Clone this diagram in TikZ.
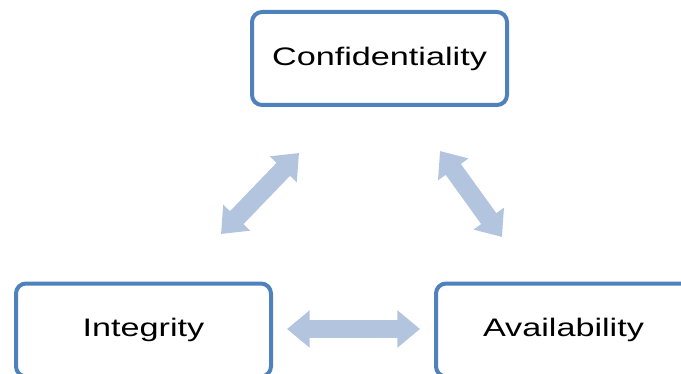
\documentclass[tikz,border=0pt]{standalone}
\usepackage{fontspec}
\setmainfont{Liberation Sans}
\usetikzlibrary{arrows.meta}
\definecolor{boxblue}{HTML}{4F81BD}
\definecolor{arrowblue}{HTML}{B3C4DF}
\tikzset{
  pillarbox/.style={draw=boxblue, line width=3pt, rounded corners=7.5pt, fill=white,
    minimum width=191.25pt, minimum height=69.75pt, inner sep=0pt,
    font=\fontsize{19}{22}\selectfont},
  bigarrow/.style={draw=arrowblue, line width=14pt, line cap=butt,
    {Triangle[width=27pt,length=17pt]}-{Triangle[width=27pt,length=17pt]}}
}
\newcommand{\wide}[1]{\scalebox{1.35}[1]{#1}}
\begin{document}
\begin{tikzpicture}[x=0.75pt,y=-0.75pt]
\useasboundingbox (0,0) rectangle (681,374);
\node[pillarbox] (conf) at (379.5,58.5) {\wide{Confidentiality}};
\node[pillarbox] (integ) at (143.5,330) {\wide{Integrity}};
\node[pillarbox] (avail) at (563.5,330) {\wide{Availability}};
\coordinate (l1) at (221,234);
\coordinate (l2) at (299,153);
\coordinate (r1) at (440,151);
\coordinate (r2) at (502,237);
\coordinate (h1) at (287,329);
\coordinate (h2) at (420,329);
\draw[bigarrow] (l1) -- (l2);
\draw[bigarrow] (r1) -- (r2);
\draw[bigarrow] (h1) -- (h2);
\end{tikzpicture}
\end{document}
